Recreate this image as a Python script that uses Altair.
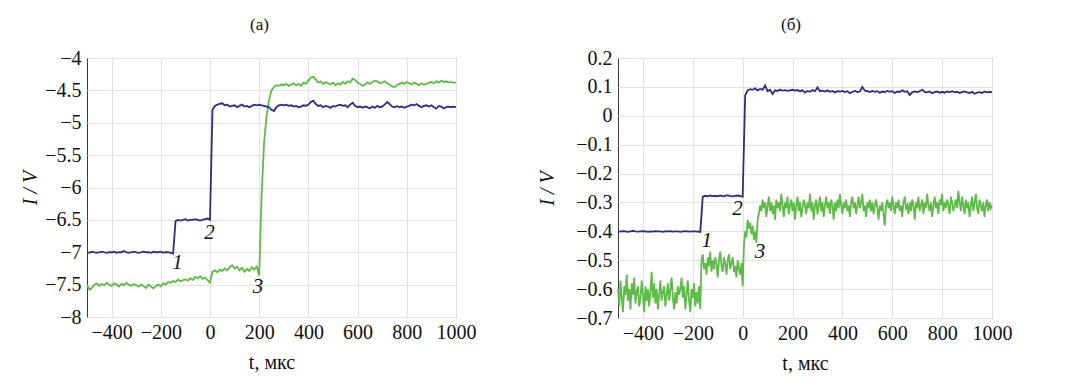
import altair as alt
import pandas as pd

BLUE = "#2f2a8a"
GREEN = "#5cbc45"
FONT = "Liberation Serif"

# ---------------- panel (a) ----------------
t_a = list(range(-500, 1001, 10))
blue_a = [
    -7.00, -7.01, -6.99, -7.00, -7.01, -7.00, -6.99, -7.00, -7.01, -7.00,
    -7.00, -6.99, -7.01, -7.00, -7.00, -6.98, -7.00, -7.01, -7.00, -6.99,
    -7.00, -7.01, -7.00, -6.99, -7.00, -7.00, -7.01, -6.99, -7.00, -7.00,
    -6.99, -7.01, -7.00, -7.00, -7.01, -7.02,
    -6.52, -6.50, -6.51, -6.50, -6.49, -6.51, -6.50, -6.50, -6.49, -6.50,
    -6.51, -6.50, -6.49, -6.48, -6.50,
    -4.80, -4.74, -4.72, -4.71, -4.70, -4.73, -4.72, -4.75, -4.74, -4.73,
    -4.76, -4.74, -4.72, -4.75, -4.74, -4.76, -4.74, -4.72, -4.73, -4.72,
    -4.73, -4.74, -4.75, -4.76, -4.80, -4.82, -4.76, -4.73, -4.72, -4.73,
    -4.72, -4.74, -4.73, -4.75, -4.74, -4.76, -4.75, -4.73, -4.74, -4.72,
    -4.68, -4.66, -4.71, -4.74, -4.73, -4.76, -4.74, -4.75, -4.77, -4.74,
    -4.75, -4.73, -4.72, -4.74, -4.73, -4.76, -4.72, -4.69, -4.74, -4.76,
    -4.75, -4.77, -4.75, -4.76, -4.78, -4.75, -4.77, -4.74, -4.76, -4.75,
    -4.72, -4.68, -4.71, -4.75, -4.76, -4.74, -4.76, -4.75, -4.77, -4.75,
    -4.74, -4.72, -4.73, -4.71, -4.74, -4.76, -4.74, -4.73, -4.75, -4.73,
    -4.76, -4.78, -4.74, -4.75, -4.78, -4.76, -4.75, -4.76, -4.75, -4.76,
]
green_a = [
    -7.50, -7.58, -7.55, -7.50, -7.48, -7.52, -7.49, -7.51, -7.47, -7.50,
    -7.52, -7.48, -7.50, -7.53, -7.49, -7.51, -7.47, -7.50, -7.52, -7.49,
    -7.51, -7.53, -7.50, -7.52, -7.55, -7.50, -7.53, -7.56, -7.52, -7.50,
    -7.53, -7.48, -7.50, -7.46, -7.47, -7.44, -7.46, -7.42, -7.45, -7.43,
    -7.42, -7.44, -7.40, -7.43, -7.38, -7.40, -7.37, -7.41, -7.39, -7.43,
    -7.47, -7.30, -7.28, -7.31, -7.27, -7.29, -7.25, -7.28, -7.23, -7.20,
    -7.25, -7.22, -7.28, -7.24, -7.30, -7.26, -7.29, -7.23, -7.27, -7.22,
    -7.36, -6.10, -5.30, -4.90, -4.65, -4.50, -4.45, -4.42, -4.43, -4.41,
    -4.42, -4.40, -4.43, -4.41, -4.39, -4.42, -4.40, -4.43, -4.38, -4.40,
    -4.35, -4.30, -4.29, -4.33, -4.38, -4.36, -4.40, -4.37, -4.39, -4.41,
    -4.38, -4.42, -4.39, -4.41, -4.37, -4.40, -4.36, -4.38, -4.32, -4.34,
    -4.38, -4.40, -4.43, -4.41, -4.38, -4.40, -4.37, -4.35, -4.36, -4.39,
    -4.38, -4.36, -4.39, -4.41, -4.44, -4.45, -4.42, -4.40, -4.38, -4.40,
    -4.37, -4.39, -4.41, -4.38, -4.40, -4.42, -4.39, -4.41, -4.40, -4.38,
    -4.37, -4.39, -4.36, -4.38, -4.35, -4.37, -4.36, -4.38, -4.37, -4.38,
    -4.38,
]
num_a_text = ["1", "2", "3"]
num_a_t = [-132, -2, 195]
num_a_v = [-7.17, -6.71, -7.54]
yticks_a = [-8, -7.5, -7, -6.5, -6, -5.5, -5, -4.5, -4]
ydom_a = [-8, -4]

# ---------------- panel (б) ----------------
t_b = list(range(-500, 1001, 10))
blue_b = [
    -0.400, -0.401, -0.399, -0.400, -0.402, -0.400, -0.398, -0.400, -0.401, -0.400,
    -0.399, -0.400, -0.402, -0.400, -0.401, -0.399, -0.400, -0.400, -0.402, -0.400,
    -0.400, -0.399, -0.401, -0.400, -0.400, -0.402, -0.400, -0.399, -0.400, -0.401,
    -0.400, -0.400, -0.401, -0.402, -0.280, -0.277, -0.279, -0.276, -0.278, -0.277,
    -0.278, -0.276, -0.279, -0.277, -0.275, -0.278, -0.279, -0.277, -0.276, -0.278,
    -0.280, 0.070, 0.088, 0.092, 0.090, 0.095, 0.088, 0.093, 0.090, 0.105,
    0.085, 0.090, 0.075, 0.088, 0.086, 0.090, 0.087, 0.089, 0.086, 0.088,
    0.090, 0.087, 0.089, 0.085, 0.088, 0.080, 0.086, 0.083, 0.089, 0.085,
    0.098, 0.085, 0.087, 0.084, 0.088, 0.083, 0.086, 0.081, 0.085, 0.084,
    0.086, 0.082, 0.085, 0.078, 0.083, 0.086, 0.082, 0.084, 0.100, 0.087,
    0.085, 0.082, 0.086, 0.083, 0.085, 0.080, 0.084, 0.082, 0.086, 0.083,
    0.085, 0.079, 0.084, 0.082, 0.088, 0.083, 0.085, 0.072, 0.081, 0.084,
    0.082, 0.085, 0.090, 0.083, 0.081, 0.084, 0.078, 0.082, 0.084, 0.080,
    0.083, 0.080, 0.084, 0.082, 0.085, 0.081, 0.083, 0.079, 0.082, 0.084,
    0.081, 0.079, 0.083, 0.076, 0.080, 0.082, 0.079, 0.084, 0.081, 0.083,
    0.082,
]
t_b_green = list(range(-500, 1001, 5))
green_b = [
    -0.60, -0.66, -0.57, -0.63, -0.68, -0.59, -0.62, -0.55, -0.64, -0.60,
    -0.67, -0.58, -0.62, -0.56, -0.65, -0.61, -0.59, -0.66, -0.63, -0.57,
    -0.62, -0.68, -0.59, -0.64, -0.60, -0.66, -0.61, -0.54, -0.63, -0.58,
    -0.65, -0.60, -0.67, -0.62, -0.57, -0.64, -0.61, -0.59, -0.66, -0.62,
    -0.58, -0.64, -0.60, -0.56, -0.63, -0.67, -0.61, -0.65, -0.59, -0.62,
    -0.60, -0.56, -0.63, -0.59, -0.67, -0.62, -0.57, -0.64, -0.68, -0.60,
    -0.63, -0.58, -0.66, -0.61, -0.65, -0.59, -0.67,
    -0.50, -0.48, -0.53, -0.51, -0.55, -0.49, -0.52, -0.47, -0.54, -0.50,
    -0.53, -0.49, -0.51, -0.56, -0.50, -0.47, -0.52, -0.54, -0.49, -0.51,
    -0.55, -0.50, -0.48, -0.53, -0.51, -0.49, -0.54, -0.52, -0.56, -0.50,
    -0.53, -0.55, -0.51, -0.59,
    -0.45, -0.40, -0.42, -0.36, -0.39, -0.37, -0.41, -0.38, -0.43, -0.40,
    -0.44, -0.36,
    -0.34, -0.31, -0.33, -0.29, -0.32, -0.30, -0.35, -0.31, -0.28, -0.33,
    -0.30, -0.34, -0.31, -0.36, -0.29, -0.32, -0.30, -0.33, -0.27, -0.31,
    -0.35, -0.30, -0.32, -0.28, -0.34, -0.31, -0.29, -0.33, -0.30, -0.36,
    -0.31, -0.28, -0.33, -0.30, -0.35, -0.32, -0.29, -0.31, -0.34, -0.30,
    -0.32, -0.27, -0.33, -0.30, -0.36, -0.31, -0.29, -0.34, -0.31, -0.28,
    -0.33, -0.30, -0.35, -0.31, -0.28, -0.32, -0.30, -0.34, -0.29, -0.31,
    -0.36, -0.30, -0.33, -0.29, -0.32, -0.27, -0.31, -0.34, -0.30, -0.32,
    -0.29, -0.33, -0.31, -0.35, -0.30, -0.28, -0.32, -0.30, -0.34, -0.31,
    -0.28, -0.32, -0.30, -0.27, -0.33, -0.31, -0.35, -0.30, -0.32, -0.29,
    -0.33, -0.30, -0.34, -0.31, -0.29, -0.32, -0.36, -0.31, -0.33, -0.30,
    -0.34, -0.38, -0.31, -0.29, -0.32, -0.30, -0.33, -0.28, -0.31, -0.34,
    -0.30, -0.32, -0.29, -0.33, -0.31, -0.35, -0.30, -0.28, -0.32, -0.31,
    -0.34, -0.30, -0.33, -0.29, -0.31, -0.36, -0.30, -0.32, -0.28, -0.33,
    -0.31, -0.29, -0.34, -0.30, -0.32, -0.27, -0.31, -0.33, -0.30, -0.35,
    -0.31, -0.28, -0.32, -0.30, -0.34, -0.29, -0.31, -0.27, -0.33, -0.30,
    -0.32, -0.29, -0.31, -0.34, -0.28, -0.30, -0.33, -0.31, -0.29, -0.32,
    -0.26, -0.30, -0.33, -0.28, -0.31, -0.34, -0.29, -0.32, -0.30, -0.35,
    -0.31, -0.28, -0.33, -0.30, -0.27, -0.32, -0.34, -0.29, -0.31, -0.33,
    -0.30, -0.35, -0.31, -0.29, -0.33, -0.30, -0.32, -0.31,
]
num_b_text = ["1", "2", "3"]
num_b_t = [-144, -21, 70]
num_b_v = [-0.432, -0.324, -0.472]
yticks_b = [-0.7, -0.6, -0.5, -0.4, -0.3, -0.2, -0.1, 0, 0.1, 0.2]
ydom_b = [-0.7, 0.2]

xticks = [-400, -200, 0, 200, 400, 600, 800, 1000]
xdom = [-500, 1000]

LABEL_EXPR = "format(datum.value, '~g')"


def panel(title, tb, vb, tg, vg, nt, nv, ntext, ydom, yticks, w, h,
          title_dx, ytitle_pad):
    lines = pd.concat([
        pd.DataFrame({"t": tg, "v": vg, "s": "green"}),
        pd.DataFrame({"t": tb, "v": vb, "s": "blue"}),
    ])
    nums = pd.DataFrame({"t": nt, "v": nv, "n": ntext})
    x = alt.X("t:Q", scale=alt.Scale(domain=xdom, nice=False, zero=False),
              axis=alt.Axis(values=xticks, labelExpr=LABEL_EXPR, title="t, мкс",
                            labelFont=FONT, titleFont=FONT,
                            labelFontSize=20, titleFontSize=20,
                            labelPadding=5, titlePadding=10, labelFlush=False,
                            labelOverlap=False))
    y = alt.Y("v:Q", scale=alt.Scale(domain=ydom, nice=False, zero=False),
              axis=alt.Axis(values=yticks, labelExpr=LABEL_EXPR, title="I / V",
                            labelFont=FONT, titleFont=FONT,
                            labelFontSize=20, titleFontSize=20,
                            titleFontStyle="italic", labelPadding=6,
                            titlePadding=ytitle_pad, labelOverlap=False))
    ln = alt.Chart(lines).mark_line(strokeWidth=1.8).encode(
        x=x, y=y,
        color=alt.Color("s:N", scale=alt.Scale(domain=["blue", "green"],
                                               range=[BLUE, GREEN]),
                        legend=None),
        order=alt.Order("t:Q"),
    )
    tx = alt.Chart(nums).mark_text(font=FONT, fontStyle="italic", fontSize=21,
                                   color="#111").encode(
        x=x, y=y, text="n:N")
    return alt.layer(ln, tx).properties(
        width=w, height=h,
        title=alt.TitleParams(title, font=FONT, fontSize=17, fontWeight="normal",
                              color="#111", offset=14, dx=title_dx),
    )


pa = panel("(a)", t_a, blue_a, t_a, green_a, num_a_t, num_a_v, num_a_text,
           ydom_a, yticks_a, 369, 259, -12, 4)
pb = panel("(б)", t_b, blue_b, t_b_green, green_b, num_b_t, num_b_v, num_b_text,
           ydom_b, yticks_b, 374, 260, -14, 18)

chart = alt.hconcat(pa, pb, spacing=60).properties(
    padding={"left": 12, "top": 7, "right": 5, "bottom": 5},
    background="white",
).configure_view(
    stroke="#3a3a3a", strokeWidth=1
).configure_axis(
    domain=False, ticks=False, grid=True, gridColor="#e2e2e2", gridWidth=1,
    labelFont=FONT, labelFontSize=20, labelColor="#111",
    titleFont=FONT, titleFontSize=20, titleColor="#111", titleFontWeight="normal",
)

chart.save("out.html", embed_options={"renderer": "svg", "actions": False})
